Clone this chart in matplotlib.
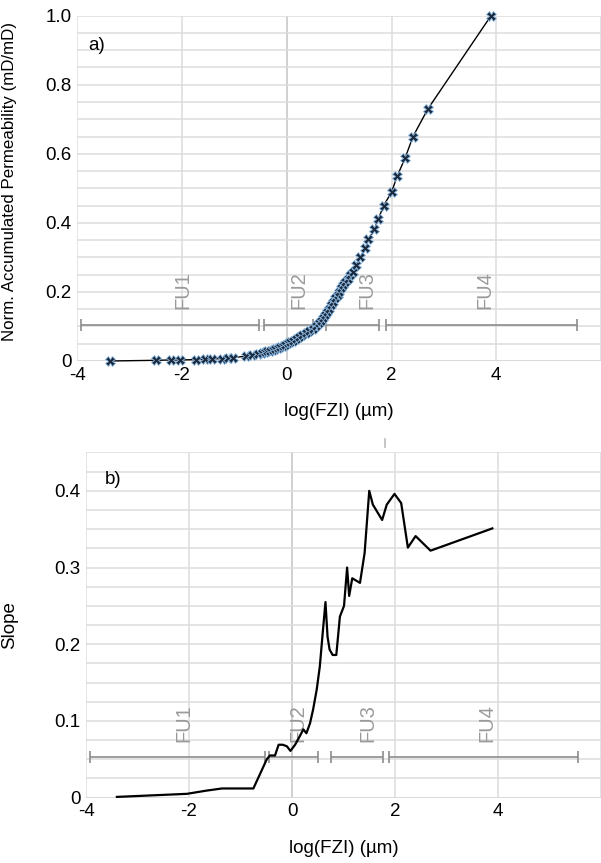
import matplotlib
matplotlib.use("Agg")
import matplotlib.pyplot as plt
from matplotlib.ticker import FuncFormatter, MultipleLocator

plt.rcParams.update({"font.family": ["Liberation Sans", "DejaVu Sans"], "font.size": 13,
                     "axes.unicode_minus": False})

# a) normalised accumulated permeability vs log(FZI)
log_fzi = [-3.38, -2.49, -2.22, -2.04, -1.73, -1.57, -1.42, -1.23, -1.13, -1.02,
           -0.77, -0.66, -0.55, -0.48, -0.42, -0.37, -0.32, -0.27, -0.22, -0.17,
           -0.12, -0.08, -0.03, 0.02, 0.07, 0.11, 0.17, 0.24, 0.30, 0.37,
           0.43, 0.50, 0.55, 0.61, 0.65, 0.69, 0.73, 0.77, 0.81, 0.85,
           0.89, 0.93, 0.97, 1.00, 1.04, 1.08, 1.12, 1.16, 1.21, 1.26,
           1.32, 1.40, 1.50, 1.56, 1.67, 1.75, 1.85, 2.00, 2.11, 2.26,
           2.41, 2.69, 3.90]
norm_perm = [0.000, 0.002, 0.003, 0.003, 0.004, 0.005, 0.006, 0.007, 0.008, 0.010,
             0.014, 0.017, 0.021, 0.024, 0.026, 0.028, 0.030, 0.032, 0.035, 0.038,
             0.041, 0.044, 0.047, 0.051, 0.055, 0.058, 0.063, 0.069, 0.074, 0.080,
             0.086, 0.093, 0.101, 0.109, 0.115, 0.124, 0.133, 0.143, 0.152, 0.162,
             0.172, 0.182, 0.192, 0.201, 0.210, 0.219, 0.228, 0.237, 0.248, 0.259,
             0.278, 0.300, 0.326, 0.352, 0.381, 0.412, 0.450, 0.489, 0.536, 0.588,
             0.650, 0.729, 1.000]

# b) slope vs log(FZI)
slope_x = [-3.40, -2.04, -1.68, -1.36, -0.75, -0.49, -0.43, -0.33, -0.26, -0.18,
           -0.10, -0.03, 0.06, 0.15, 0.22, 0.28, 0.35, 0.41, 0.48, 0.54,
           0.59, 0.65, 0.69, 0.73, 0.79, 0.86, 0.93, 1.01, 1.07, 1.11,
           1.17, 1.32, 1.41, 1.50, 1.57, 1.75, 1.84, 1.99, 2.12, 2.25,
           2.40, 2.69, 3.89]
slope = [0.001, 0.005, 0.009, 0.012, 0.012, 0.050, 0.055, 0.055, 0.069, 0.069,
         0.067, 0.061, 0.069, 0.080, 0.089, 0.084, 0.097, 0.115, 0.141, 0.171,
         0.210, 0.255, 0.210, 0.193, 0.186, 0.186, 0.236, 0.250, 0.300, 0.263,
         0.286, 0.280, 0.319, 0.400, 0.382, 0.362, 0.382, 0.396, 0.384, 0.326,
         0.341, 0.322, 0.351]

# flow units: ranges of log(FZI)
fu_names = ["FU1", "FU2", "FU3", "FU4"]
fu_lo = [-3.92, -0.44, 0.75, 1.89]
fu_hi = [-0.53, 0.50, 1.77, 5.55]

fig = plt.figure(figsize=(6.01, 8.63), dpi=100)
ax1 = fig.add_axes([0.1286, 0.5817, 0.8714, 0.4001])
ax2 = fig.add_axes([0.1431, 0.0757, 0.8569, 0.4000])

GRID = "#dcdcdc"
FU_COL = "#8c8c8c"


def style(ax, ymax, ymajor, yminor):
    ax.set_xlim(-4, 6)
    ax.set_ylim(0, ymax)
    ax.set_xticks([-4, -2, 0, 2, 4])
    ax.yaxis.set_major_locator(MultipleLocator(ymajor))
    ax.yaxis.set_minor_locator(MultipleLocator(yminor))
    ax.yaxis.set_major_formatter(FuncFormatter(lambda v, p: "0" if abs(v) < 1e-9 else f"{v:.1f}"))
    ax.grid(True, which="both", axis="y", color=GRID, lw=1.1)
    for xv in [-4, -2, 2, 4, 6]:
        ax.axvline(xv, color=GRID, lw=1.1, zorder=0)
    ax.axvline(0, color="#c4c4c4", lw=1.1, zorder=0)
    ax.set_axisbelow(True)
    for s in ax.spines.values():
        s.set_visible(False)
    ax.axhline(0, color="#cfcfcf", lw=1.2, zorder=0)
    ax.tick_params(length=0, labelsize=13.5, pad=4)
    ax.tick_params(which="minor", length=0)
    ax.set_xlabel("log(FZI) (µm)", fontsize=13.5, labelpad=14)


def flow_units(ax, ybar, ytxt, txt_x):
    for lo, hi in zip(fu_lo, fu_hi):
        c = (lo + hi) / 2
        ax.errorbar(c, ybar, xerr=[[c - lo], [hi - c]], fmt="none", ecolor=FU_COL,
                    elinewidth=1.2, capsize=4, capthick=1.2, zorder=2)
    for name, tx in zip(fu_names, txt_x):
        ax.text(tx, ytxt, name, rotation=90, ha="center", va="bottom",
                color="#9a9a9a", fontsize=14.5, zorder=2)


style(ax1, 1.0, 0.2, 0.05)
flow_units(ax1, 0.104, 0.152, [-1.99, 0.24, 1.52, 3.78])
ax1.plot(log_fzi, norm_perm, color="black", lw=1.0, marker="X", ms=6.5,
         mfc="#1b2a3c", mec="#8fbde8", mew=0.6, zorder=3, clip_on=False)
ax1.set_ylabel("Norm. Accumulated Permeability (mD/mD)", fontsize=12.2)
ax1.yaxis.set_label_coords(-0.115, 0.52)
ax1.text(-3.64, 0.915, "a)", fontsize=13.5, ha="center", va="center")

style(ax2, 0.45, 0.1, 0.025)
flow_units(ax2, 0.053, 0.072, [-2.1, 0.12, 1.47, 3.78])
ax2.plot(slope_x, slope, color="black", lw=1.6, zorder=3)
ax2.set_ylabel("Slope", fontsize=13.5)
ax2.yaxis.set_label_coords(-0.132, 0.5)
ax2.text(-3.48, 0.415, "b)", fontsize=13.5, ha="center", va="center")

# small stray boundary tick above panel b
ax2.plot([1.8, 1.8], [0.457, 0.468], color="#bbbbbb", lw=1.2, clip_on=False)

fig.savefig("out.png", dpi=100)
